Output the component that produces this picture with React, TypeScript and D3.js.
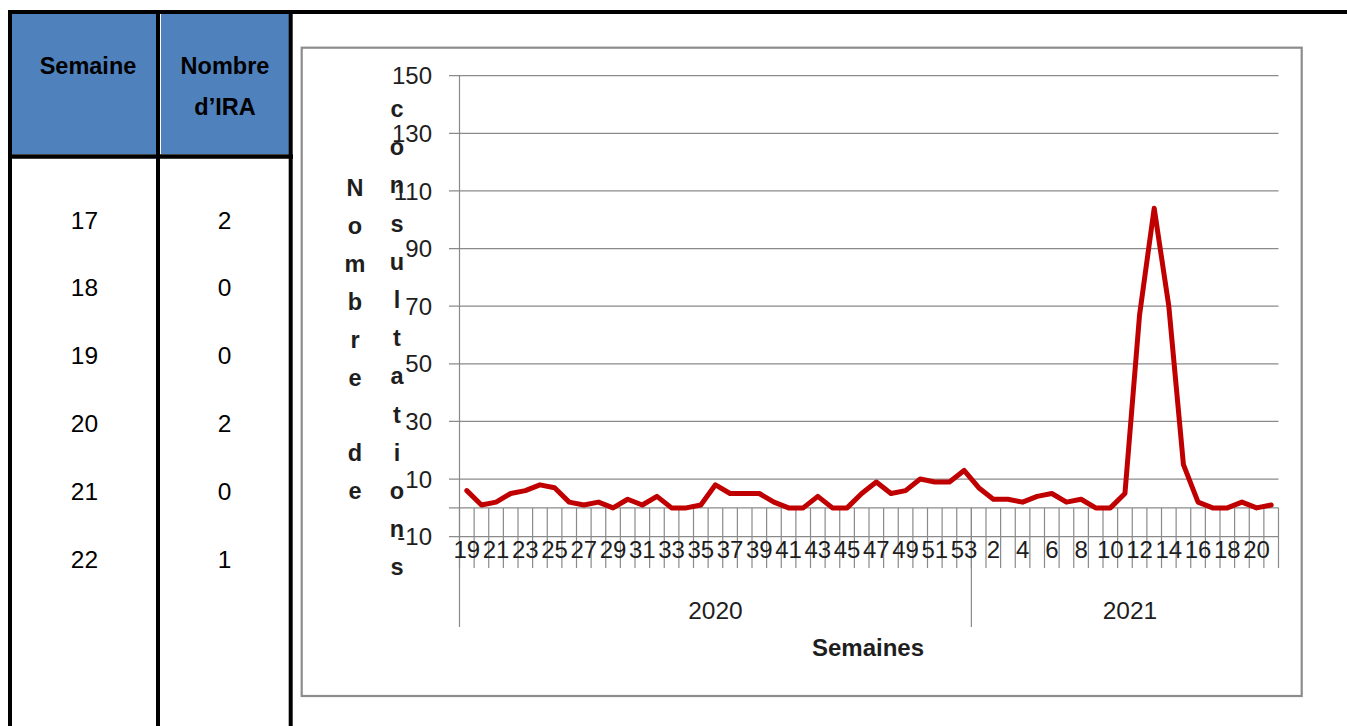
import * as d3 from "d3";

// table on the left
const tableWeeks = ["17", "18", "19", "20", "21", "22"];
const tableCounts = ["2", "0", "0", "2", "0", "1"];

// chart series, one value per week
const weeks2020 = [19, 20, 21, 22, 23, 24, 25, 26, 27, 28, 29, 30, 31, 32, 33, 34, 35, 36, 37, 38, 39, 40, 41, 42, 43, 44, 45, 46, 47, 48, 49, 50, 51, 52, 53];
const values2020 = [6, 1, 2, 5, 6, 8, 7, 2, 1, 2, 0, 3, 1, 4, 0, 0, 1, 8, 5, 5, 5, 2, 0, 0, 4, 0, 0, 5, 9, 5, 6, 10, 9, 9, 13];
const weeks2021 = [1, 2, 3, 4, 5, 6, 7, 8, 9, 10, 11, 12, 13, 14, 15, 16, 17, 18, 19, 20, 21];
const values2021 = [7, 3, 3, 2, 4, 5, 2, 3, 0, 0, 5, 67, 104, 70, 15, 2, 0, 0, 2, 0, 1];
const years = ["2020", "2021"];
const yTicks = [-10, 10, 30, 50, 70, 90, 110, 130, 150];

const yTitle1 = "Nombre de";
const yTitle2 = "consultations";

const FONT = "'Liberation Sans', Arial, sans-serif";
const GRID = "#8a8a8a";
const TXT = "#1e1e1e";

type Pt = { key: string; year: string; week: number; value: number };

const points: Pt[] = [
  ...weeks2020.map((w, i) => ({ key: `2020-${w}`, year: years[0], week: w, value: values2020[i] })),
  ...weeks2021.map((w, i) => ({ key: `2021-${w}`, year: years[1], week: w, value: values2021[i] })),
];

export default function App() {
  const plot = { left: 459.5, right: 1278.5, top: 75.7, bottom: 536.7 };

  const x = d3
    .scaleBand()
    .domain(points.map((p) => p.key))
    .range([plot.left, plot.right])
    .padding(0);
  const y = d3.scaleLinear().domain([-10, 150]).range([plot.bottom, plot.top]);

  const bw = x.bandwidth();
  const cx = (p: Pt) => (x(p.key) ?? 0) + bw / 2;
  const y0 = y(0);
  const tickBottom = 568;
  const groupBottom = 627;

  const line = d3
    .line<Pt>()
    .x(cx)
    .y((p) => y(p.value));

  const bounds = points.map((p) => x(p.key) ?? 0).concat([plot.right]);
  const splitX = x(`2021-${weeks2021[0]}`) ?? 0;
  const yearSpans = [
    { label: years[0], x0: plot.left, x1: splitX },
    { label: years[1], x0: splitX, x1: plot.right },
  ];

  const rowY = (i: number) => 228.5 + i * 67.8;
  const letterStep = 38.2;

  return (
    <svg
      width={1347}
      height={726}
      style={{ position: "absolute", left: 0, top: 0, background: "#fff" }}
      fontFamily={FONT}
    >
      {/* ---- table ---- */}
      <rect x={12} y={14} width={144} height={140} fill="#4f81bd" />
      <rect x={161} y={14} width={128} height={140} fill="#4f81bd" />
      <line x1={160.5} x2={160.5} y1={14} y2={154} stroke="#fff" strokeWidth={1} />
      <line x1={8} x2={1347} y1={12} y2={12} stroke="#000" strokeWidth={4} />
      <line x1={10} x2={10} y1={10} y2={726} stroke="#000" strokeWidth={4} />
      <line x1={158} x2={158} y1={10} y2={726} stroke="#000" strokeWidth={4} />
      <line x1={290.7} x2={290.7} y1={10} y2={726} stroke="#000" strokeWidth={4} />
      <line x1={8} x2={293} y1={156.6} y2={156.6} stroke="#000" strokeWidth={4.5} />
      <g fontWeight="bold" fontSize={23.5} fill="#000" textAnchor="middle">
        <text x={88} y={74}>Semaine</text>
        <text x={225} y={74}>Nombre</text>
        <text x={225} y={115}>d’IRA</text>
      </g>
      <g fontSize={24.5} fill="#000" textAnchor="middle">
        {tableWeeks.map((w, i) => (
          <text key={`w${w}`} x={84.5} y={rowY(i)}>{w}</text>
        ))}
        {tableCounts.map((c, i) => (
          <text key={`c${i}`} x={224.5} y={rowY(i)}>{c}</text>
        ))}
      </g>

      {/* ---- chart area ---- */}
      <rect x={301.7} y={47.7} width={1000} height={648.3} fill="#fff" stroke="#8c8c8c" strokeWidth={2.2} />

      {/* horizontal gridlines */}
      {yTicks.map((t) => (
        <line key={`g${t}`} x1={449} x2={plot.right} y1={y(t)} y2={y(t)} stroke={GRID} strokeWidth={1.2} />
      ))}
      {/* category axis line at zero */}
      <line x1={449} x2={plot.right} y1={y0} y2={y0} stroke={GRID} strokeWidth={1.2} />
      {/* category tick lines */}
      {bounds.map((bx, i) => (
        <line key={`t${i}`} x1={bx} x2={bx} y1={y0} y2={tickBottom} stroke={GRID} strokeWidth={1.2} />
      ))}
      {/* value axis + group separators */}
      <line x1={plot.left} x2={plot.left} y1={plot.top} y2={groupBottom} stroke={GRID} strokeWidth={1.2} />
      <line x1={splitX} x2={splitX} y1={y0} y2={groupBottom} stroke={GRID} strokeWidth={1.2} />

      {/* y tick labels */}
      <g fontSize={24} fill={TXT} textAnchor="end">
        {yTicks.map((t) => (
          <text key={`l${t}`} x={432} y={y(t)} dy="0.36em">{t}</text>
        ))}
      </g>

      {/* y title, stacked letters */}
      <g fontSize={23.5} fontWeight="bold" fill={TXT} textAnchor="middle">
        {yTitle1.split("").map((ch, i) => (
          <text key={`a${i}`} x={355} y={196 + i * 37.9}>{ch}</text>
        ))}
        {yTitle2.split("").map((ch, i) => (
          <text key={`b${i}`} x={397} y={117 + i * letterStep}>{ch}</text>
        ))}
      </g>

      {/* category labels, every other week */}
      <g fontSize={24} fill={TXT} textAnchor="middle">
        {points
          .filter((_, i) => i % 2 === 0)
          .map((p) => (
            <text key={`x${p.key}`} x={cx(p)} y={558.3}>{p.week}</text>
          ))}
      </g>

      {/* year labels */}
      <g fontSize={24.5} fill={TXT} textAnchor="middle">
        {yearSpans.map((s) => (
          <text key={s.label} x={(s.x0 + s.x1) / 2 + (s.label === years[1] ? 5 : 0)} y={619}>{s.label}</text>
        ))}
      </g>

      <text x={868} y={655.7} fontSize={24} fontWeight="bold" fill={TXT} textAnchor="middle">Semaines</text>

      {/* series */}
      <path d={line(points) ?? ""} fill="none" stroke="#c00000" strokeWidth={5} strokeLinejoin="round" strokeLinecap="round" />
    </svg>
  );
}
